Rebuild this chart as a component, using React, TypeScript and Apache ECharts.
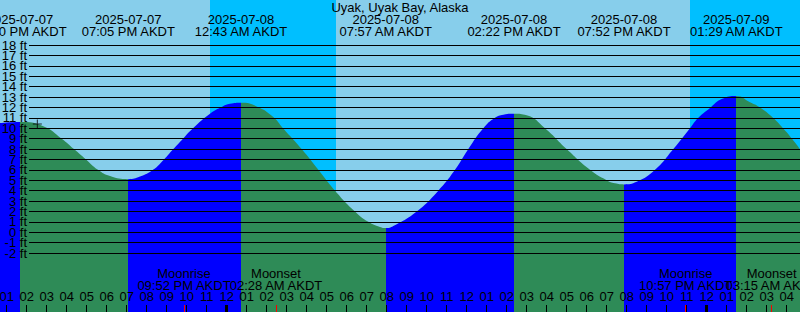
import React, { useEffect, useRef } from "react";
import * as echarts from "echarts";

// ---------- data ----------
const STATION = "Uyak, Uyak Bay, Alaska";
const TZ = "AKDT";
const BASE = "2025-07-08 00:00";
const VIEW_START = "2025-07-07 12:40";
const VIEW_END = "2025-07-09 04:40";

const tideTimes = [
  "2025-07-07 12:40", "2025-07-07 13:40", "2025-07-07 14:50", "2025-07-07 15:45",
  "2025-07-07 16:22", "2025-07-07 16:58", "2025-07-07 17:34", "2025-07-07 18:10",
  "2025-07-07 19:05", "2025-07-07 19:40", "2025-07-07 20:19", "2025-07-07 20:52",
  "2025-07-07 21:20", "2025-07-07 21:49", "2025-07-07 22:19", "2025-07-07 23:10",
  "2025-07-07 23:48", "2025-07-08 00:10", "2025-07-08 00:43", "2025-07-08 01:30",
  "2025-07-08 02:19", "2025-07-08 02:49", "2025-07-08 03:45", "2025-07-08 04:35",
  "2025-07-08 05:25", "2025-07-08 06:25", "2025-07-08 07:05", "2025-07-08 07:40",
  "2025-07-08 07:57", "2025-07-08 08:20", "2025-07-08 09:30", "2025-07-08 10:35",
  "2025-07-08 11:25", "2025-07-08 12:05", "2025-07-08 12:50", "2025-07-08 13:25",
  "2025-07-08 13:50", "2025-07-08 14:22", "2025-07-08 15:00", "2025-07-08 15:55",
  "2025-07-08 17:00", "2025-07-08 18:10", "2025-07-08 19:00", "2025-07-08 19:25",
  "2025-07-08 19:52", "2025-07-08 20:30", "2025-07-08 21:25", "2025-07-08 22:20",
  "2025-07-08 23:10", "2025-07-08 23:35", "2025-07-09 00:12", "2025-07-09 00:45",
  "2025-07-09 01:29", "2025-07-09 02:10", "2025-07-09 02:40", "2025-07-09 03:19",
  "2025-07-09 03:49", "2025-07-09 04:16", "2025-07-09 04:40",
];
const tideFeet = [
  10.5, 10.6, 10.2, 9.0,
  8.0, 7.0, 6.0, 5.4,
  5.1, 5.35, 6.0, 7.0,
  8.0, 9.0, 10.0, 11.4,
  12.1, 12.35, 12.45, 12.1,
  11.1, 10.0, 8.0, 6.0,
  4.0, 2.0, 1.0, 0.5,
  0.4, 0.6, 2.0, 4.0,
  6.0, 8.0, 10.0, 11.0,
  11.3, 11.4, 11.25, 10.0,
  8.0, 6.0, 5.0, 4.7,
  4.6, 4.85, 6.0, 8.0,
  10.0, 11.0, 12.0, 12.8,
  13.1, 12.5, 12.0, 11.0,
  10.0, 9.0, 8.0,
];

// high / low tide events (shown in the header)
const eventTimes = [
  "2025-07-07 13:40", "2025-07-07 19:05", "2025-07-08 00:43", "2025-07-08 07:57",
  "2025-07-08 14:22", "2025-07-08 19:52", "2025-07-09 01:29",
];
const eventFeet = [10.6, 5.1, 12.45, 0.4, 11.4, 4.6, 13.1];

const sunsetTimes = ["2025-07-07 23:10", "2025-07-08 23:10"];
const sunriseTimes = ["2025-07-08 05:28", "2025-07-09 05:29"];

const moonriseTimes = ["2025-07-07 21:52", "2025-07-08 22:57"];
const moonsetTimes = ["2025-07-08 02:28", "2025-07-09 03:15"];

const nowTime = "2025-07-07 14:32";
const nowFeet = 10.4;

const HEIGHT_MIN = -2;
const HEIGHT_MAX = 18;

// ---------- helpers ----------
const FONT = "Liberation Sans, Arial, sans-serif";
const parseMs = (s: string) => {
  const [d, t] = s.split(" ");
  const [y, m, dd] = d.split("-").map(Number);
  const [hh, mm] = t.split(":").map(Number);
  return Date.UTC(y, m - 1, dd, hh, mm);
};
const BASE_MS = parseMs(BASE);
const toH = (s: string) => (parseMs(s) - BASE_MS) / 3600000;
const pad2 = (n: number) => String(n).padStart(2, "0");
const fmtTime = (s: string) => {
  const [, t] = s.split(" ");
  const [hh, mm] = t.split(":").map(Number);
  const ap = hh >= 12 ? "PM" : "AM";
  let h12 = hh % 12;
  if (h12 === 0) h12 = 12;
  return `${pad2(h12)}:${pad2(mm)} ${ap} ${TZ}`;
};
const nearest = (arr: number[], v: number) => {
  let best = 0;
  arr.forEach((a, i) => {
    if (Math.abs(a - v) < Math.abs(arr[best] - v)) best = i;
  });
  return best;
};

const XMIN = toH(VIEW_START);
const XMAX = toH(VIEW_END);
const YMAX = 22.33;
const YMIN = -7.67;

export default function App() {
  const ref = useRef<HTMLDivElement>(null);
  useEffect(() => {
    document.body.style.margin = "0";
    if (!ref.current) return;
    const chart = echarts.init(ref.current, null, { renderer: "svg" });

    const tideData = tideTimes.map((t, i) => [toH(t), tideFeet[i]]);
    const eventH = eventTimes.map(toH);
    const riseH = moonriseTimes.map(toH);
    const setH = moonsetTimes.map(toH);
    const hourTicks: number[] = [];
    for (let h = Math.ceil(XMIN); h <= Math.floor(XMAX); h++) hourTicks.push(h);
    const midnights = hourTicks.filter((h) => h % 24 === 0);
    const heightTicks: number[] = [];
    for (let f = HEIGHT_MIN; f <= HEIGHT_MAX; f++) heightTicks.push(f);
    const evenTicks = heightTicks.filter((f) => f % 2 === 0);
    const oddTicks = heightTicks.filter((f) => f % 2 !== 0);

    // rising = blue, falling = green
    const pieces: any[] = [];
    for (let i = 0; i <= eventH.length; i++) {
      let rising: boolean;
      if (i === 0) rising = eventFeet[0] > eventFeet[1];
      else if (i === eventH.length) rising = eventFeet[i - 1] < eventFeet[i - 2];
      else rising = eventFeet[i] > eventFeet[i - 1];
      const p: any = { color: rising ? "#0000ff" : "#2e8b57" };
      if (i > 0) p.gte = eventH[i - 1];
      if (i < eventH.length) p.lt = eventH[i];
      pieces.push(p);
    }

    const txt = { color: "#000", fontSize: 13, fontFamily: FONT };
    const baseX = {
      gridIndex: 0,
      type: "value",
      min: XMIN,
      max: XMAX,
      z: 5,
      axisLine: { show: false, onZero: false },
      splitLine: { show: false },
    };
    const moonAxis = (vals: number[], times: string[], name: string) => ({
      ...baseX,
      position: "bottom",
      axisTick: { show: true, inside: true, length: 7, customValues: vals, lineStyle: { color: "#ff0000", width: 1 } },
      axisLabel: {
        show: true, inside: true, margin: 21, customValues: vals, ...txt, lineHeight: 12,
        formatter: (v: number) => `${name}\n${fmtTime(times[nearest(vals, v)])}`,
      },
    });
    const heightAxis = (labels: number[], lines: boolean) => ({
      gridIndex: 1,
      type: "value",
      position: "left",
      offset: 0,
      min: HEIGHT_MIN,
      max: HEIGHT_MAX,
      interval: 1,
      z: 5,
      axisLine: { show: false, onZero: false },
      axisTick: { show: false },
      splitLine: { show: lines, lineStyle: { color: "#000", width: 1 } },
      axisLabel: {
        margin: 2,
        customValues: labels,
        showMinLabel: true,
        showMaxLabel: true,
        formatter: (v: number) => `${Math.round(v)} ft`,
        ...txt,
      },
    });

    chart.setOption({
      animation: false,
      backgroundColor: "#87ceeb",
      title: {
        text: STATION,
        left: "center",
        top: 1,
        padding: 0,
        textStyle: { ...txt, fontWeight: "normal" },
      },
      grid: [
        { left: 0, right: 0, top: 0, bottom: 0, outerBoundsMode: "none", containLabel: false },
        { left: 29, right: 0, top: 45, height: 208, outerBoundsMode: "none", containLabel: false },
      ],
      xAxis: [
        {
          ...baseX,
          position: "bottom",
          axisTick: { show: true, inside: true, length: 7, customValues: hourTicks, lineStyle: { color: "#000", width: 1 } },
          axisLabel: {
            show: true, inside: true, margin: 9, customValues: hourTicks, ...txt,
            formatter: (v: number) => {
              let h = ((Math.round(v) % 12) + 12) % 12;
              if (h === 0) h = 12;
              return pad2(h);
            },
          },
        },
        {
          ...baseX,
          position: "bottom",
          axisTick: { show: true, inside: true, length: 7, customValues: midnights, lineStyle: { color: "#000", width: 3 } },
          axisLabel: { show: false },
        },
        moonAxis(riseH, moonriseTimes, "Moonrise"),
        moonAxis(setH, moonsetTimes, "Moonset"),
        {
          ...baseX,
          position: "top",
          axisTick: { show: false },
          axisLabel: {
            show: true, inside: true, margin: 13, customValues: eventH, ...txt, lineHeight: 12,
            formatter: (v: number) => {
              const i = nearest(eventH, v);
              return `${eventTimes[i].split(" ")[0]}\n${fmtTime(eventTimes[i])}`;
            },
          },
        },
        { gridIndex: 1, type: "value", min: 0, max: 1, show: false, axisLine: { onZero: false } },
      ],
      yAxis: [
        { gridIndex: 0, type: "value", min: YMIN, max: YMAX, show: false, axisLine: { onZero: false } },
        heightAxis(evenTicks, true),
        heightAxis(oddTicks, false),
      ],
      visualMap: {
        type: "piecewise",
        show: false,
        dimension: 0,
        seriesIndex: 0,
        pieces,
      },
      series: [
        {
          type: "line",
          xAxisIndex: 0,
          yAxisIndex: 0,
          data: tideData,
          smooth: true,
          symbol: "none",
          lineStyle: { width: 0 },
          areaStyle: { opacity: 1, origin: "start" },
          z: 2,
          silent: true,
        },
        {
          type: "line",
          xAxisIndex: 0,
          yAxisIndex: 0,
          data: [],
          z: 1,
          silent: true,
          markArea: {
            silent: true,
            itemStyle: { color: "#00bfff" },
            data: sunsetTimes.map((s, i) => [{ xAxis: toH(s) }, { xAxis: toH(sunriseTimes[i]) }]),
          },
        },
        {
          type: "scatter",
          xAxisIndex: 0,
          yAxisIndex: 0,
          data: [[toH(nowTime), nowFeet]],
          symbol: "path://M4,0h1v4h4v1h-4v4h-1v-4h-4v-1h4z",
          symbolSize: 9,
          itemStyle: { color: "#000" },
          z: 6,
          silent: true,
        },
      ],
    });
    return () => chart.dispose();
  }, []);
  return <div ref={ref} style={{ width: 800, height: 312 }} />;
}
